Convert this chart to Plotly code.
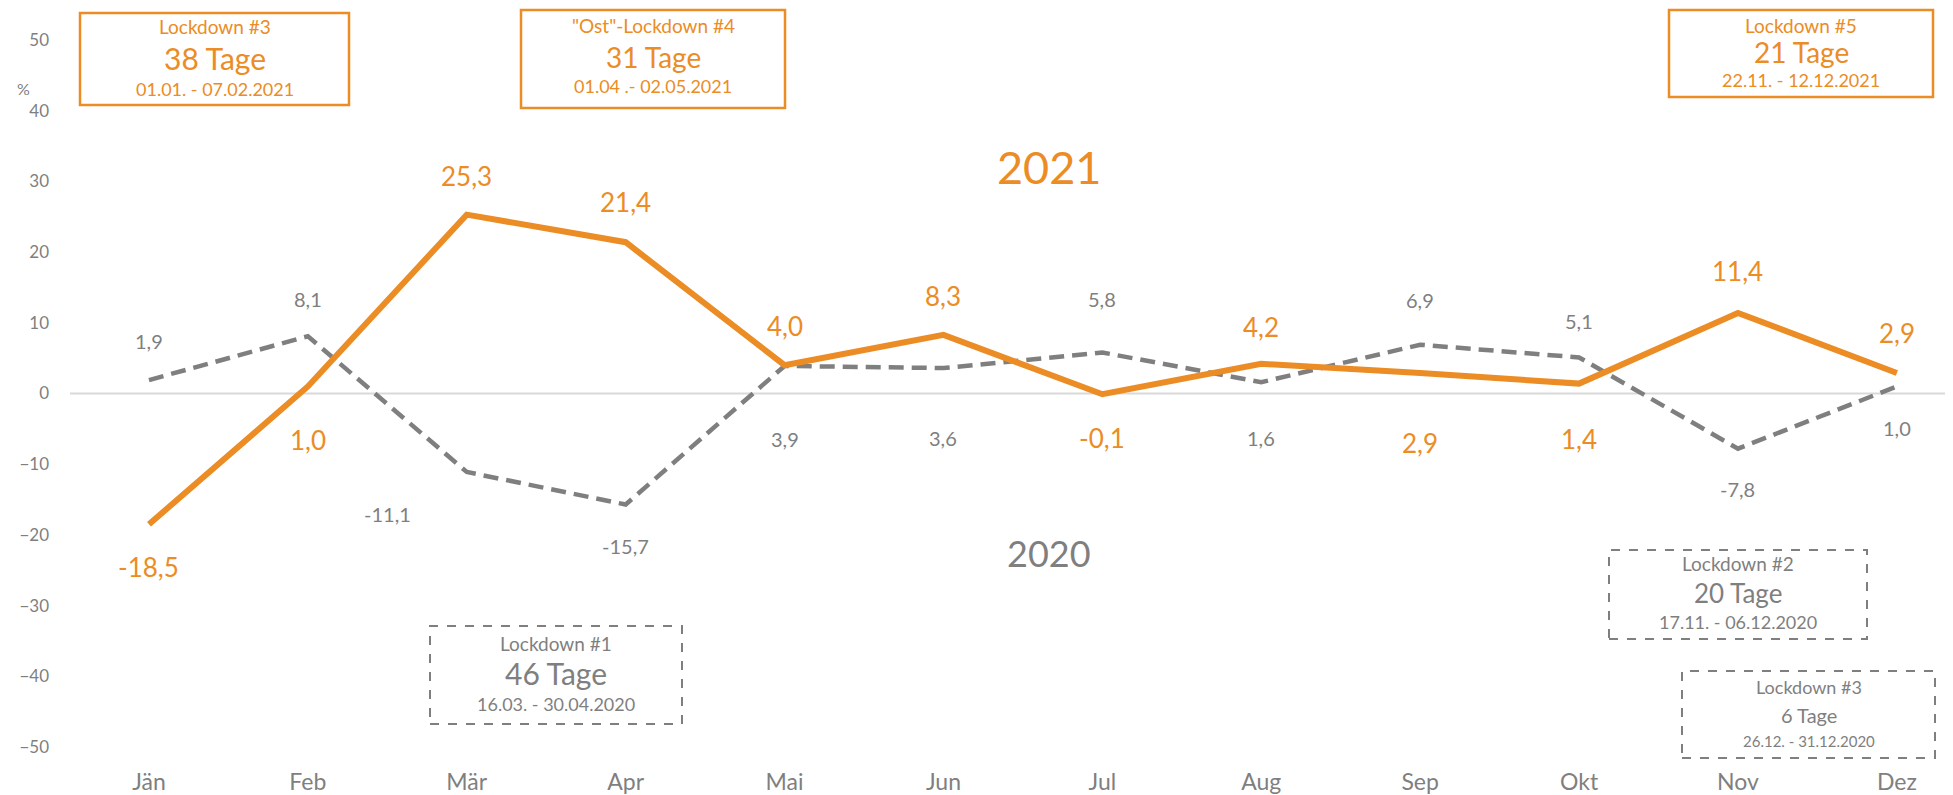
import plotly.graph_objects as go

# data
months = ["Jän", "Feb", "Mär", "Apr", "Mai", "Jun", "Jul", "Aug", "Sep", "Okt", "Nov", "Dez"]
values_2021 = [-18.5, 1.0, 25.3, 21.4, 4.0, 8.3, -0.1, 4.2, 2.9, 1.4, 11.4, 2.9]
values_2020 = [1.9, 8.1, -11.1, -15.7, 3.9, 3.6, 5.8, 1.6, 6.9, 5.1, -7.8, 1.0]
y_ticks = [-50, -40, -30, -20, -10, 0, 10, 20, 30, 40, 50]

# label offsets in pixels (positive = below the point)
offset_2021 = [43, 54, -39, -40, -39, -39, 44, -37, 70, 55, -42, -40]
offset_2020 = [-39, -37, 42, 41, 73, 70, -53, 56, -45, -36, 40, 42]
xshift_2020 = [0, 0, -79, 0, 0, 0, 0, 0, 0, 0, 0, 0]

ORANGE = "#EB8C25"
GREY = "#7F7F7F"
FONT = "Lato"

# the page body adds an 8px margin, so positions below are screen pixels
# and get shifted back by OFF
OFF = 8
W, H = 1953, 795
L, R, T, B = 70 - OFF, 0, 40 - OFF, 795 - 747 + OFF
PW, PH = W - L - R, H - T - B


def px(x):
    return (x - OFF - L) / PW


def py(y):
    return (H - B - (y - OFF)) / PH


def fmt(v):
    return f"{v:.1f}".replace(".", ",")


x_idx = list(range(len(months)))

fig = go.Figure()

fig.add_trace(
    go.Scatter(
        x=x_idx,
        y=values_2020,
        mode="lines",
        line=dict(color=GREY, width=4.5, dash="15px,8px"),
        showlegend=False,
        hoverinfo="skip",
    )
)

fig.add_trace(
    go.Scatter(
        x=x_idx,
        y=values_2021,
        mode="lines",
        line=dict(color=ORANGE, width=6),
        showlegend=False,
        hoverinfo="skip",
    )
)

annotations = []

for i, v in enumerate(values_2021):
    annotations.append(
        dict(
            x=i, y=v, xref="x", yref="y",
            text=fmt(v), showarrow=False,
            yshift=-offset_2021[i],
            font=dict(family=FONT, size=26, color=ORANGE),
        )
    )

for i, v in enumerate(values_2020):
    annotations.append(
        dict(
            x=i, y=v, xref="x", yref="y",
            text=fmt(v), showarrow=False,
            yshift=-offset_2020[i], xshift=xshift_2020[i],
            font=dict(family=FONT, size=20, color=GREY),
        )
    )


def label(x, y, text, size, color):
    return dict(x=px(x), y=py(y), xref="paper", yref="paper", text=text,
                xanchor="center", yanchor="middle", showarrow=False,
                font=dict(family=FONT, size=size, color=color))


# big year labels
annotations.append(label(1049, 167, "2021", 45, ORANGE))
annotations.append(label(1049, 553, "2020", 36, GREY))
annotations.append(label(23, 88, "%", 16, GREY))

# lockdown boxes
boxes = [
    (80, 13, 349, 105, ["Lockdown #3", "38 Tage", "01.01. - 07.02.2021"], [27, 58, 89], [19, 30, 18], ORANGE, False),
    (521, 10, 785, 108, ["\"Ost\"-Lockdown #4", "31 Tage", "01.04 .- 02.05.2021"], [25, 57, 86], [19, 28, 18], ORANGE, False),
    (1669, 10, 1933, 97, ["Lockdown #5", "21 Tage", "22.11. - 12.12.2021"], [25, 52, 80], [19, 28, 18], ORANGE, False),
    (430, 626, 682, 724, ["Lockdown #1", "46 Tage", "16.03. - 30.04.2020"], [643, 673, 704], [19, 30, 18], GREY, True),
    (1609, 550, 1867, 639, ["Lockdown #2", "20 Tage", "17.11. - 06.12.2020"], [563, 593, 622], [19, 26, 18], GREY, True),
    (1682, 671, 1935, 758, ["Lockdown #3", "6 Tage", "26.12. - 31.12.2020"], [687, 715, 741], [18, 20, 15], GREY, True),
]

shapes = [
    dict(type="line", xref="paper", yref="y", x0=0, x1=1, y0=0, y1=0,
         line=dict(color="#D9D9D9", width=2), layer="below"),
]

for x0, y0, x1, y1, lines, ys, sizes, color, dashed in boxes:
    shapes.append(
        dict(
            type="rect", xref="paper", yref="paper",
            x0=px(x0), x1=px(x1), y0=py(y1), y1=py(y0),
            line=dict(color=color, width=2 if dashed else 2.5,
                      dash="dash" if dashed else "solid"),
            fillcolor="rgba(0,0,0,0)",
        )
    )
    cx = (x0 + x1) / 2
    for text, yy, size in zip(lines, ys, sizes):
        annotations.append(label(cx, yy, text, size, color))

fig.update_layout(
    width=W,
    height=H,
    margin=dict(l=L, r=R, t=T, b=B, pad=0),
    paper_bgcolor="white",
    plot_bgcolor="white",
    font=dict(family=FONT, color=GREY),
    annotations=annotations,
    shapes=shapes,
    xaxis=dict(
        range=[-0.497, -0.497 + PW / 158.9],
        tickmode="array",
        tickvals=x_idx,
        ticktext=months,
        showgrid=False,
        zeroline=False,
        showline=False,
        tickfont=dict(family=FONT, size=23, color=GREY),
        ticklabelstandoff=19,
    ),
    yaxis=dict(
        range=[-50, 50],
        tickmode="array",
        tickvals=y_ticks,
        showgrid=False,
        zeroline=False,
        showline=False,
        tickfont=dict(family=FONT, size=17, color=GREY),
        ticklabelstandoff=20,
    ),
)

fig.write_html("out.html")
